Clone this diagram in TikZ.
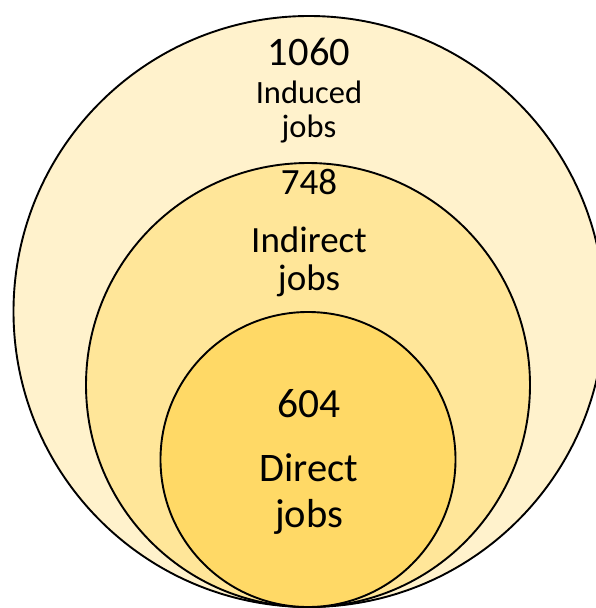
\documentclass[tikz,border=0pt]{standalone}
\usepackage{fontspec}
\setmainfont{Carlito}
\usepackage{tikz}
\definecolor{induced}{RGB}{255,242,204}
\definecolor{indirect}{RGB}{255,230,153}
\definecolor{direct}{RGB}{255,217,102}
\tikzset{
  ring/.style={circle, draw=black, line width=1.9pt, inner sep=0pt},
  numlbl/.style={anchor=base, inner sep=0pt},
  txtlbl/.style={anchor=base, inner sep=0pt, align=center},
}

\begin{document}
\begin{tikzpicture}[x=1pt, y=-1pt]
  \useasboundingbox (0,0) rectangle (596,608);
  % nested circles, all touching at the bottom
  \node[ring, fill=induced, minimum size=591pt] (induced) at (309,311.5) {};
  \node[ring, fill=indirect, minimum size=444pt] (indirect) at (308,385) {};
  \node[ring, fill=direct, minimum size=295pt] (direct) at (308,459.5) {};
  % labels
  \node[numlbl, font=\fontsize{40.5}{42}\selectfont] (n1060) at (309,65.9) {1060};
  \node[txtlbl, font=\fontsize{32.5}{33.7}\selectfont] (t1060) at (309,137.6) {Induced\\jobs};
  \node[numlbl, font=\fontsize{37}{38}\selectfont] (n748) at (309,194.5) {748};
  \node[txtlbl, font=\fontsize{37}{38.8}\selectfont] (t748) at (309,290.8) {Indirect\\jobs};
  \node[numlbl, font=\fontsize{41.5}{42}\selectfont] (n604) at (309,417.3) {604};
  \node[txtlbl, font=\fontsize{40.5}{45.7}\selectfont] (t604) at (309,527.3) {Direct\\jobs};
\end{tikzpicture}
\end{document}
